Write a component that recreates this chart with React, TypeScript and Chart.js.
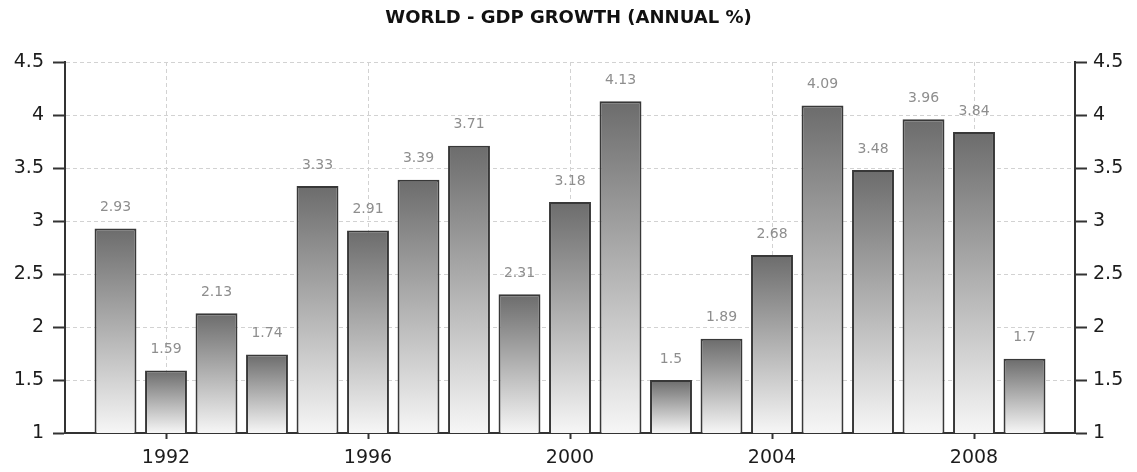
import React, { useEffect, useRef } from "react";
import { Chart, registerables } from "chart.js";

Chart.register(...registerables);

const titleText = "WORLD - GDP GROWTH (ANNUAL %)";
const years = [1991, 1992, 1993, 1994, 1995, 1996, 1997, 1998, 1999, 2000, 2001, 2002, 2003, 2004, 2005, 2006, 2007, 2008, 2009];
const gdpGrowth = [2.93, 1.59, 2.13, 1.74, 3.33, 2.91, 3.39, 3.71, 2.31, 3.18, 4.13, 1.5, 1.89, 2.68, 4.09, 3.48, 3.96, 3.84, 1.7];
const xTickYears = [1992, 1996, 2000, 2004, 2008];
const xMin = 1990;
const xMax = 2010;
const yMin = 1;
const yMax = 4.5;
const yStep = 0.5;

const FONT = '"DejaVu Sans", sans-serif';

const valueLabels = {
  id: "valueLabels",
  afterDatasetsDraw(chart: any) {
    const meta = chart.getDatasetMeta(0);
    const ctx = chart.ctx;
    ctx.save();
    ctx.font = `14px ${FONT}`;
    ctx.fillStyle = "#8e8e8e";
    ctx.textAlign = "center";
    ctx.textBaseline = "middle";
    meta.data.forEach((bar: any, i: number) => {
      ctx.fillText(String(gdpGrowth[i]), bar.x, bar.y - 21);
    });
    ctx.restore();
  },
};

export default function App() {
  const canvasRef = useRef<HTMLCanvasElement | null>(null);

  useEffect(() => {
    const canvas = canvasRef.current;
    if (!canvas) return;

    const tickCommon = {
      color: "#1c1c1c",
      font: { family: FONT, size: 19 },
    };

    const chart = new Chart(canvas, {
      type: "bar",
      data: {
        datasets: [
          {
            data: years.map((yr, i) => ({ x: yr, y: gdpGrowth[i] })),
            backgroundColor: (ctx: any) => {
              const c = ctx.chart;
              if (!c.chartArea || ctx.type !== "data") return "#999";
              const ys = c.scales.y;
              const top = ys.getPixelForValue(ctx.raw.y);
              const bottom = ys.getPixelForValue(yMin);
              const g = c.ctx.createLinearGradient(0, top, 0, bottom);
              g.addColorStop(0, "#6c6c6c");
              g.addColorStop(1, "#f6f6f6");
              return g;
            },
            borderColor: "#383838",
            borderWidth: 2,
            borderSkipped: false,
            categoryPercentage: 1,
            barPercentage: 0.83,
          } as any,
        ],
      },
      options: {
        animation: false,
        responsive: false,
        maintainAspectRatio: false,
        layout: { padding: 0 },
        plugins: {
          legend: { display: false },
          tooltip: { enabled: false },
          title: {
            display: true,
            text: titleText,
            color: "#111",
            font: { family: FONT, size: 18, weight: "bold", lineHeight: 1.2 },
            padding: { top: 8, bottom: 32.4 },
          },
        },
        scales: {
          x: {
            type: "linear",
            min: xMin,
            max: xMax,
            offset: false,
            afterBuildTicks: (scale: any) => {
              scale.ticks = xTickYears.map((v) => ({ value: v }));
            },
            afterFit: (scale: any) => {
              scale.height = 39;
            },
            ticks: {
              ...tickCommon,
              padding: 8,
              maxRotation: 0,
              autoSkip: false,
              callback: (v: any) => String(v),
            },
            grid: {
              offset: false,
              color: "#d2d2d2",
              lineWidth: 1,
              tickColor: "#333",
              tickWidth: 2,
              tickLength: 6,
              tickBorderDash: [],
            },
            border: { display: true, color: "#333", width: 2, dash: [4, 3] },
          },
          y: {
            type: "linear",
            position: "left",
            min: yMin,
            max: yMax,
            afterFit: (scale: any) => {
              scale.width = 65;
            },
            ticks: {
              ...tickCommon,
              stepSize: yStep,
              padding: 9,
              callback: (v: any) => String(v),
            },
            grid: {
              color: "#d2d2d2",
              lineWidth: 1,
              tickColor: "#333",
              tickWidth: 2,
              tickLength: 12,
              tickBorderDash: [],
            },
            border: { display: true, color: "#333", width: 2, dash: [4, 3] },
          },
          y2: {
            type: "linear",
            position: "right",
            min: yMin,
            max: yMax,
            afterFit: (scale: any) => {
              scale.width = 62;
            },
            ticks: {
              ...tickCommon,
              stepSize: yStep,
              padding: 6,
              callback: (v: any) => String(v),
            },
            grid: {
              drawOnChartArea: false,
              tickColor: "#333",
              tickWidth: 2,
              tickLength: 12,
              tickBorderDash: [],
            },
            border: { display: true, color: "#333", width: 2 },
          },
        },
      } as any,
      plugins: [valueLabels],
    });

    return () => chart.destroy();
  }, []);

  return (
    <div style={{ position: "absolute", left: 0, top: 0, width: 1137, height: 472, background: "#fff" }}>
      <canvas ref={canvasRef} width={1137} height={472} style={{ display: "block" }} />
    </div>
  );
}
